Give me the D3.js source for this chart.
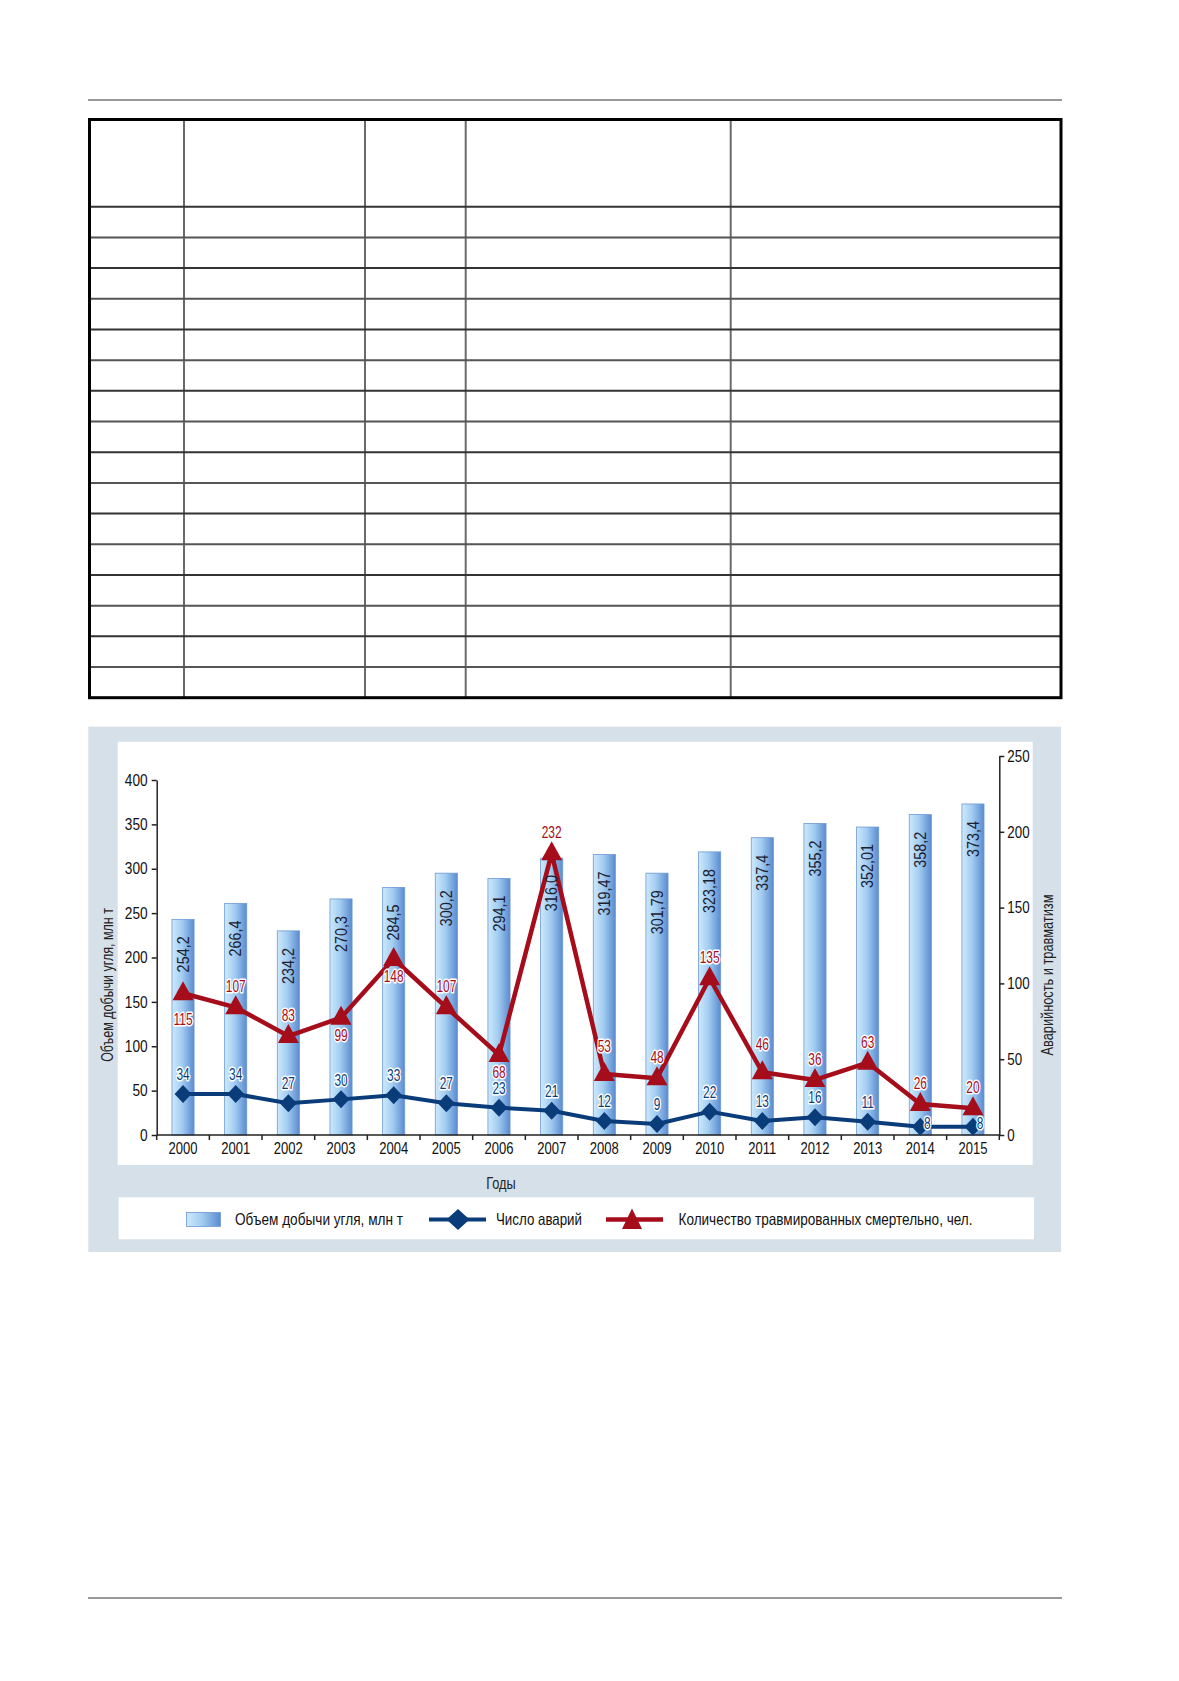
<!DOCTYPE html>
<html><head><meta charset="utf-8">
<script src="https://cdn.jsdelivr.net/npm/d3@7/dist/d3.min.js"></script>
<style>
html,body{margin:0;padding:0;background:#fff;}
svg{display:block;}
text{font-family:"Liberation Sans",Arial,sans-serif;}
</style></head>
<body>
<svg id="c" width="1179" height="1681"></svg>
<script>
// ---- data ----
const years = ["2000","2001","2002","2003","2004","2005","2006","2007","2008","2009","2010","2011","2012","2013","2014","2015"];
const coalBars = [243, 261, 230, 266, 279, 295, 289, 312, 316, 295, 319, 335, 351, 347, 361, 373];
const coalLabels = ["254,2","266,4","234,2","270,3","284,5","300,2","294,1","316,0","319,47","301,79","323,18","337,4","355,2","352,01","358,2","373,4"];
const fatalPlot = [93.5, 84.2, 65.3, 77.4, 116.1, 84.2, 52.8, 185.8, 40.2, 37.4, 103.4, 41.4, 36.3, 47.7, 20.4, 17.6];
const fatalLabels = [115, 107, 83, 99, 148, 107, 68, 232, 53, 48, 135, 46, 36, 63, 26, 20];
const fatalPlace = ["belowFar","above","above","below","below","above","below","above","aboveFar","above","above","aboveFar","above","above","above","above"];
const accPlot = [27, 27, 20.9, 23.5, 26.2, 20.9, 18, 16, 9.2, 7.3, 15.4, 9.2, 11.7, 8.8, 5.5, 5.5];
const accLabels = [34, 34, 27, 30, 33, 27, 23, 21, 12, 9, 22, 13, 16, 11, 8, 8];
const accPlace = ["above","above","above","above","above","above","above","above","above","above","above","above","above","above","right","right"];
const leftTicks = [0, 50, 100, 150, 200, 250, 300, 350, 400];
const rightTicks = [0, 50, 100, 150, 200, 250];
const leftTitle = "Объем добычи угля, млн т";
const rightTitle = "Аварийность и травматизм";
const xTitle = "Годы";
const legendItems = ["Объем добычи угля, млн т", "Число аварий", "Количество травмированных смертельно, чел."];

const RED = "#a50d1b", BLUE = "#0b3c7a", PANEL = "#d6e0e8";
const svg = d3.select("#c");

// condensed text helper: text placed at (x,y) [optionally rotated] and squeezed horizontally
function addText(parent, str, x, y, opt) {
  opt = opt || {};
  const sx = opt.sx || 0.8;
  const rot = opt.rot ? ` rotate(${opt.rot})` : "";
  return parent.append("text")
    .attr("transform", `translate(${x},${y})${rot} scale(${sx},1)`)
    .attr("text-anchor", opt.anchor || "start")
    .attr("dy", opt.dy || null)
    .attr("font-size", opt.size || 16)
    .attr("fill", opt.fill || "#111")
    .text(str);
}
function condenseAxis(g, sx) {
  g.selectAll("text").each(function() {
    const t = d3.select(this);
    const tx = +t.attr("x") || 0, ty = +t.attr("y") || 0;
    t.attr("x", 0).attr("y", 0).attr("transform", `translate(${tx},${ty}) scale(${sx},1)`);
  });
}

// ---- page rules ----
svg.append("line").attr("x1",88).attr("x2",1062).attr("y1",100).attr("y2",100).attr("stroke","#777").attr("stroke-width",1.6);
svg.append("line").attr("x1",88).attr("x2",1062).attr("y1",1598).attr("y2",1598).attr("stroke","#777").attr("stroke-width",1.6);

// ---- empty table ----
const T = {x0:89.5, x1:1061, y0:119.5, yh:206.7, y1:697.7};
const cols = [184, 365, 465.7, 730.7];
const rowH = (T.y1 - T.yh) / years.length;
const tg = svg.append("g");
cols.forEach(c => tg.append("line").attr("x1",c).attr("x2",c).attr("y1",T.y0).attr("y2",T.y1).attr("stroke","#6a6a6a").attr("stroke-width",2));
d3.range(years.length).forEach(i => {
  const y = T.yh + i*rowH;
  tg.append("line").attr("x1",T.x0).attr("x2",T.x1).attr("y1",y).attr("y2",y).attr("stroke", i%2? "#555":"#333").attr("stroke-width",2);
});
tg.append("rect").attr("x",T.x0).attr("y",T.y0).attr("width",T.x1-T.x0).attr("height",T.y1-T.y0).attr("fill","none").attr("stroke","#000").attr("stroke-width",3);

// ---- chart panel ----
svg.append("rect").attr("x",88.3).attr("y",726.7).attr("width",1061-88.3).attr("height",1252-726.7).attr("fill",PANEL);
svg.append("rect").attr("x",117.7).attr("y",741.7).attr("width",1032.7-117.7).attr("height",1165-741.7).attr("fill","#fff");
svg.append("rect").attr("x",118.6).attr("y",1197.3).attr("width",1034-118.6).attr("height",1239.3-1197.3).attr("fill","#fff");

const defs = svg.append("defs");
const gr = defs.append("linearGradient").attr("id","barG").attr("x1","0").attr("x2","1").attr("y1","0").attr("y2","0");
gr.append("stop").attr("offset","0").attr("stop-color","#cde9fc");
gr.append("stop").attr("offset","0.45").attr("stop-color","#a3cdf1");
gr.append("stop").attr("offset","1").attr("stop-color","#5a8bd0");

// scales
const x = d3.scaleBand().domain(years).range([156.7, 999.3]).paddingInner(0.58).paddingOuter(0.29);
const yL = d3.scaleLinear().domain([0,400]).range([1135, 780]);
const yR = d3.scaleLinear().domain([0,250]).range([1135, 756]);
const cx = d => x(d) + x.bandwidth()/2;

// bars
const gB = svg.append("g");
gB.selectAll("rect").data(years).join("rect")
  .attr("x", d => x(d)).attr("width", x.bandwidth())
  .attr("y", (d,i) => yL(coalBars[i])).attr("height", (d,i) => yL(0) - yL(coalBars[i]))
  .attr("fill","url(#barG)").attr("stroke","#6d9ad2").attr("stroke-width",0.8);

// axes
const axStyle = g => { g.selectAll("path,line").attr("stroke","#222").attr("stroke-width",1.5); g.selectAll("text").attr("font-size",16.3).attr("fill","#111"); };
svg.append("g").attr("transform","translate(156.7,0)")
  .call(d3.axisLeft(yL).tickValues(leftTicks).tickSize(5).tickSizeOuter(0).tickPadding(4).tickFormat(d3.format("d")))
  .call(axStyle).call(g => condenseAxis(g, 0.84));
svg.append("g").attr("transform","translate(999.3,0)")
  .call(d3.axisRight(yR).tickValues(rightTicks).tickSize(5).tickSizeOuter(0).tickPadding(3).tickFormat(d3.format("d")))
  .call(axStyle).call(g => condenseAxis(g, 0.82));
const gx = svg.append("g").attr("transform","translate(0,1135)")
  .call(d3.axisBottom(x).tickSize(0).tickPadding(7))
  .call(axStyle).call(g => condenseAxis(g, 0.8));
gx.select(".domain").attr("d", `M156.7,0H999.3`);
const bounds = years.map(d => x(d) - x.step()*x.paddingInner()/2).concat([999.3]);
gx.selectAll(".btick").data(bounds).join("line").attr("class","btick")
  .attr("x1", d => d).attr("x2", d => d).attr("y1",0).attr("y2",5).attr("stroke","#222").attr("stroke-width",1.5);

// titles
addText(svg, leftTitle, 107, 985, {rot:-90, anchor:"middle", dy:"0.36em", size:16, sx:0.78, fill:"#222"});
addText(svg, rightTitle, 1047, 975, {rot:-90, anchor:"middle", dy:"0.36em", size:16, sx:0.8, fill:"#222"});
addText(svg, xTitle, 501, 1189, {anchor:"middle", size:16, sx:0.8, fill:"#222"});

// lines
const lineGen = d3.line().x(d => d[0]).y(d => d[1]);
const fatalPts = years.map((d,i) => [cx(d), yR(fatalPlot[i])]);
const accPts = years.map((d,i) => [cx(d), yR(accPlot[i])]);
svg.append("path").attr("d", lineGen(fatalPts)).attr("fill","none").attr("stroke",RED).attr("stroke-width",4.5).attr("stroke-linejoin","round");
svg.append("g").selectAll("path").data(fatalPts).join("path")
  .attr("transform", d => `translate(${d[0]},${d[1]})`)
  .attr("d", "M0,-12L10.5,7L-10.5,7Z").attr("fill",RED);
svg.append("path").attr("d", lineGen(accPts)).attr("fill","none").attr("stroke",BLUE).attr("stroke-width",4).attr("stroke-linejoin","round");
svg.append("g").selectAll("path").data(accPts).join("path")
  .attr("transform", d => `translate(${d[0]},${d[1]})`)
  .attr("d", "M0,-9L8.5,0L0,9L-8.5,0Z").attr("fill",BLUE);

// bar value labels (on top of lines)
const gBL = svg.append("g");
years.forEach((d,i) => addText(gBL, coalLabels[i], cx(d), yL(coalBars[i]) + 17,
  {rot:-90, anchor:"end", dy:"0.36em", size:16, sx:0.9, fill:"#1b2030"}));

// point labels
const offF = {above:-21, aboveFar:-28, below:17, belowFar:26};
const gl = svg.append("g").attr("stroke","#fff").attr("stroke-width",3.2).attr("paint-order","stroke").attr("stroke-linejoin","round");
fatalPts.forEach((p,i) => addText(gl, fatalLabels[i], p[0], p[1] + offF[fatalPlace[i]], {anchor:"middle", dy:"0.36em", size:17, sx:0.7, fill:RED}));
accPts.forEach((p,i) => {
  const r = accPlace[i] === "right";
  addText(gl, accLabels[i], p[0] + (r ? 7 : 0), p[1] + (r ? -4 : -20), {anchor:"middle", dy:"0.36em", size:17, sx:0.7, fill:BLUE});
});

// legend
const lg = svg.append("g");
lg.append("rect").attr("x",186.5).attr("y",1212.5).attr("width",34).attr("height",14).attr("fill","url(#barG)").attr("stroke","#6d9ad2").attr("stroke-width",0.8);
lg.append("text").attr("x",235).attr("y",1225).attr("font-size",16.5).attr("fill","#111")
  .attr("textLength",168).attr("lengthAdjust","spacingAndGlyphs").text(legendItems[0]);
lg.append("line").attr("x1",429).attr("x2",486).attr("y1",1219.5).attr("y2",1219.5).attr("stroke",BLUE).attr("stroke-width",4);
lg.append("path").attr("transform","translate(458,1219.5)").attr("d","M0,-10.5L11.5,0L0,10.5L-11.5,0Z").attr("fill",BLUE);
lg.append("text").attr("x",496).attr("y",1225).attr("font-size",16.5).attr("fill","#111")
  .attr("textLength",86).attr("lengthAdjust","spacingAndGlyphs").text(legendItems[1]);
lg.append("line").attr("x1",606).attr("x2",663).attr("y1",1219.5).attr("y2",1219.5).attr("stroke",RED).attr("stroke-width",4.5);
lg.append("path").attr("transform","translate(632,1219.5)").attr("d","M0,-11L10,9.5L-10,9.5Z").attr("fill",RED);
lg.append("text").attr("x",678.5).attr("y",1225).attr("font-size",16.5).attr("fill","#111")
  .attr("textLength",294).attr("lengthAdjust","spacingAndGlyphs").text(legendItems[2]);
</script>
</body></html>
